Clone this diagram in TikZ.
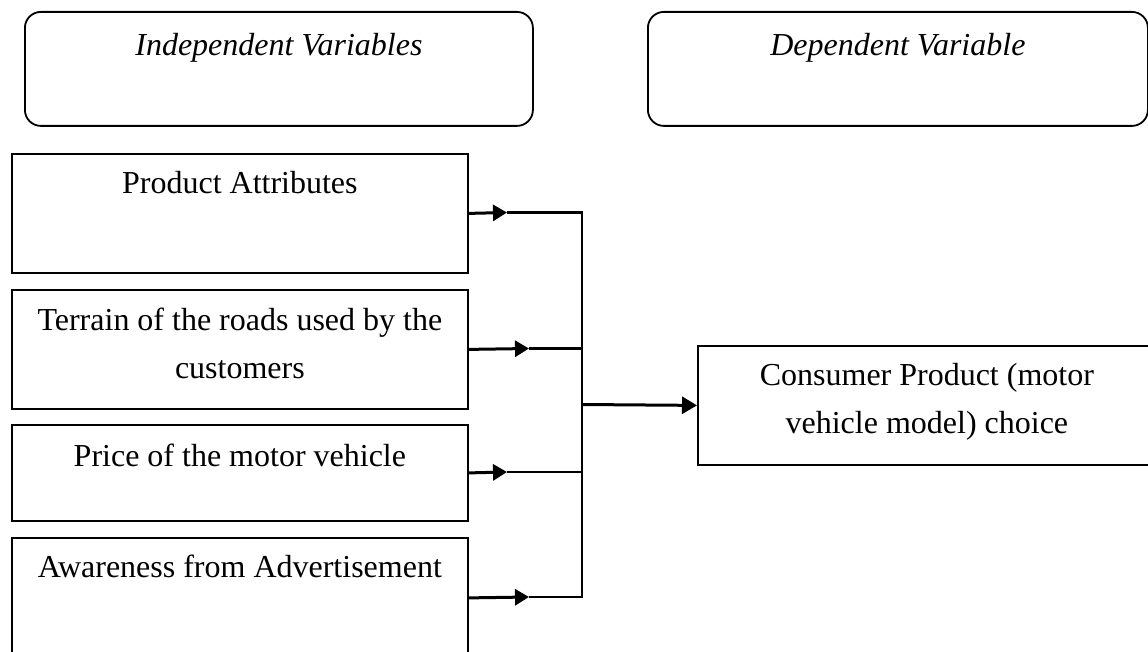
\documentclass[tikz,border=0pt]{standalone}
\usepackage{fontspec}
\setmainfont{Liberation Serif}
\usetikzlibrary{arrows.meta}
\newcommand\boxtxt[4]{\parbox[c][#1][t]{#2}{\centering\rule{0pt}{#3}#4\par}}
\begin{document}
\begin{tikzpicture}[x=1pt,y=-1pt,
  font=\fontsize{32}{48}\selectfont,
  vb/.style={draw, line width=1.8pt, inner sep=0pt, anchor=north west},
  hdr/.style={vb, rounded corners=16pt},
  inarr/.style={line width=3pt, -{Triangle[length=14pt,width=16pt]}},
  link/.style={line width=2.2pt},
  mainarr/.style={line width=3pt, -{Triangle[length=15pt,width=17pt]}}]
\useasboundingbox (0,0) rectangle (1148,652);
\fill[white] (0,0) rectangle (1148,652);
\begin{scope}
\clip (0,0) rectangle (1148,652);
\node[hdr] (iv) at (24,11) {\boxtxt{114pt}{508pt}{44pt}{\itshape Independent Variables}};
\node[hdr] (dv) at (647,11) {\boxtxt{114pt}{500pt}{44pt}{\itshape Dependent Variable}};
\node[vb] (pa) at (11,153) {\boxtxt{119pt}{456pt}{40pt}{Product Attributes}};
\node[vb] (tr) at (11,289) {\boxtxt{119pt}{456pt}{41pt}{Terrain of the roads used by the\\customers}};
\node[vb] (pr) at (11,424) {\boxtxt{96pt}{456pt}{42pt}{Price of the motor vehicle}};
\node[vb] (aw) at (11,537) {\boxtxt{120pt}{456pt}{40pt}{Awareness from Advertisement}};
\node[vb] (cp) at (697,345) {\boxtxt{119pt}{458pt}{40pt}{Consumer Product (motor\\vehicle model) choice}};
\end{scope}
\coordinate (ta) at (507,212.5);
\coordinate (tb) at (529,348.5);
\coordinate (tc) at (507,472);
\coordinate (td) at (529,597);
\coordinate (ja) at (582,212.5);
\coordinate (jb) at (582,348.5);
\coordinate (jc) at (582,472);
\coordinate (jd) at (582,597);
\coordinate (jm) at (582,404.5);
\draw[inarr] (pa.east) -- (ta);
\draw[link] (ta) -- (ja);
\draw[inarr] (tr.east) -- (tb);
\draw[link] (tb) -- (jb);
\draw[inarr] (pr.east) -- (tc);
\draw[link] (tc) -- (jc);
\draw[inarr] (aw.east) -- (td);
\draw[link] (td) -- (jd);
\draw[link, line width=2.6pt, line cap=rect] (ja) -- (jd);
\draw[mainarr] (jm) -- (cp.west);
\end{tikzpicture}
\end{document}
